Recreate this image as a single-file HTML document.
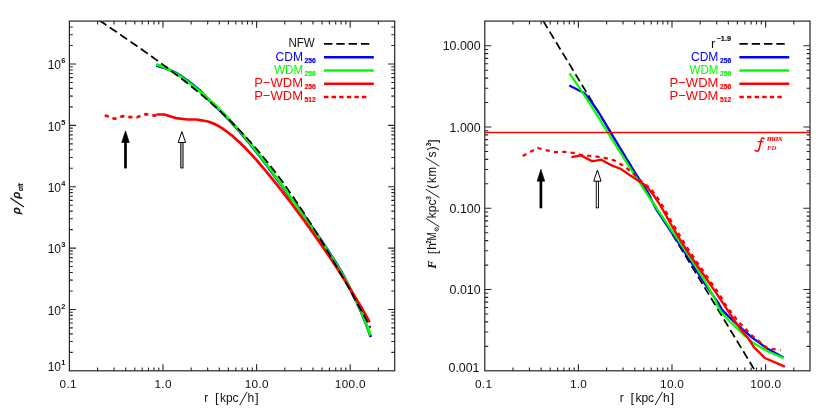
<!DOCTYPE html>
<html><head><meta charset="utf-8"><title>plot</title>
<style>html,body{margin:0;padding:0;background:#fff;}body{width:830px;height:415px;overflow:hidden;font-family:"Liberation Sans",sans-serif;}svg{display:block;will-change:transform;}</style>
</head><body>
<svg width="830" height="415" viewBox="0 0 830 415" font-family="Liberation Sans, sans-serif">
<rect width="830" height="415" fill="#fff"/>
<defs>
<clipPath id="cl"><rect x="69.4" y="21.1" width="325.29999999999995" height="349.7"/></clipPath>
<clipPath id="cr"><rect x="484.8" y="21.1" width="325.2" height="349.7"/></clipPath>
</defs>
<g clip-path="url(#cl)">
<polyline points="156.3,65.8 158.7,66.3 161.1,66.9 163.5,67.6 165.9,68.5 168.3,69.4 170.7,70.4 173.1,71.4 175.6,72.6 178.0,74.1 180.4,75.6 182.8,77.3 185.2,79.0 187.6,80.7 190.0,82.5 192.4,84.4 194.8,86.3 197.2,88.3 199.6,90.3 202.0,92.7 204.4,95.3 206.8,97.9 209.2,100.3 211.7,102.5 214.1,104.8 216.5,107.1 218.9,109.5 221.3,111.9 223.7,114.3 226.1,116.8 228.5,119.3 230.9,121.9 233.3,124.5 235.7,127.2 238.1,129.9 240.5,132.7 242.9,135.5 245.3,138.3 247.8,141.2 250.2,144.1 252.6,147.1 255.0,150.1 257.4,153.2 259.8,156.2 262.2,159.4 264.6,162.5 267.0,165.7 269.4,168.9 271.8,172.1 274.2,175.4 276.6,178.7 279.0,182.0 281.5,185.3 283.9,188.6 286.3,192.0 288.7,195.4 291.1,198.5 293.5,201.2 295.9,203.9 298.3,207.3 300.7,210.7 303.1,214.2 305.5,217.6 307.9,221.1 310.3,224.5 312.7,228.0 315.1,231.5 317.6,235.0 320.0,238.5 322.4,242.1 324.8,245.7 327.2,249.3 329.6,253.0 332.0,256.7 334.4,260.5 336.8,264.3 339.2,268.2 341.6,272.3 344.0,276.4 346.4,281.0 348.8,286.1 351.2,291.3 353.7,296.0 356.1,300.9 358.5,306.1 360.9,311.5 363.3,317.2 365.7,323.2 368.1,329.5 370.5,336.2 370.8,337.0" fill="none" stroke="#0000ff" stroke-width="2.7" stroke-linejoin="round" />
<polyline points="156.3,64.3 158.7,65.1 161.1,65.9 163.5,66.9 165.9,68.0 168.3,69.2 170.7,70.5 173.1,71.9 175.6,73.3 178.0,74.9 180.4,76.4 182.8,78.1 185.2,79.8 187.6,81.5 190.0,83.3 192.4,85.2 194.8,87.1 197.2,89.1 199.6,91.1 202.0,93.1 204.4,95.2 206.8,97.3 209.2,99.5 211.7,101.7 214.1,104.0 216.5,106.3 218.9,108.7 221.3,111.1 223.7,113.5 226.1,116.0 228.5,118.5 230.9,121.1 233.3,123.7 235.7,126.4 238.1,129.1 240.5,131.9 242.9,134.7 245.3,137.5 247.8,140.4 250.2,143.3 252.6,146.3 255.0,149.3 257.4,152.4 259.8,155.4 262.2,158.6 264.6,161.7 267.0,164.9 269.4,168.1 271.8,171.3 274.2,174.6 276.6,177.9 279.0,181.2 281.5,184.5 283.9,187.8 286.3,191.2 288.7,194.6 291.1,198.0 293.5,201.4 295.9,204.8 298.3,208.2 300.7,211.6 303.1,215.1 305.5,218.5 307.9,222.0 310.3,225.4 312.7,228.9 315.1,232.4 317.6,235.9 320.0,239.4 322.4,243.0 324.8,246.6 327.2,250.2 329.6,253.9 332.0,257.6 334.4,261.4 336.8,265.2 339.2,269.1 341.6,273.2 344.0,277.3 346.4,281.5 348.8,285.9 351.2,290.5 353.7,295.2 356.1,300.1 358.5,305.3 360.9,310.7 363.3,316.4 365.7,322.4 368.1,328.7 370.5,335.4" fill="none" stroke="#00ff00" stroke-width="2.7" stroke-linejoin="round" />
<polyline points="156.4,114.5 164.4,114.5 170.0,116.2 176.0,118.1 187.5,119.5 196.2,119.5 200.0,120.2 203.0,120.6 205.4,121.0 207.8,121.5 210.2,122.3 212.7,123.2 215.1,124.3 217.5,125.5 219.9,126.9 222.3,128.4 224.7,130.1 227.2,131.8 229.6,133.7 232.0,135.6 234.4,137.7 236.8,139.9 239.2,142.1 241.7,144.4 244.1,146.8 246.5,149.3 248.9,151.8 251.3,154.4 253.7,157.0 256.2,159.7 258.6,162.5 261.0,165.3 263.4,168.1 265.8,171.0 268.2,173.9 270.6,176.9 273.1,179.9 275.5,182.9 277.9,185.9 280.3,189.0 282.7,192.1 285.1,195.2 287.6,198.4 290.0,201.5 292.4,204.7 294.8,207.9 297.2,211.2 299.6,214.4 302.1,217.7 304.5,221.0 306.9,224.4 309.3,227.7 311.7,231.1 314.1,234.5 316.5,237.9 319.0,241.4 321.4,244.9 323.8,248.4 326.2,251.9 328.6,255.5 331.0,259.1 333.5,262.8 335.9,266.4 338.3,270.1 340.7,273.9 343.1,277.7 345.5,281.5 348.0,285.3 350.4,289.2 352.8,293.2 355.2,297.2 357.6,301.2 360.0,305.3 362.5,309.5 364.9,313.7 367.3,317.9 369.7,322.2" fill="none" stroke="#ff0000" stroke-width="2.7" stroke-linejoin="round" />
<polyline points="104.8,115.2 109.0,116.8 114.5,118.8 118.0,117.8 122.5,116.2 130.4,117.1 136.9,117.3 141.0,115.8 145.6,114.2 150.0,114.9 154.3,115.6 158.6,114.5" fill="none" stroke="#ff0000" stroke-width="2.7" stroke-linejoin="round" stroke-dasharray="4.2 4.0" />
<polyline points="97.0,18.8 99.0,20.1 100.9,21.5 102.9,22.8 104.9,24.1 106.8,25.5 108.8,26.8 110.8,28.1 112.7,29.5 114.7,30.8 116.7,32.1 118.6,33.5 120.6,34.8 122.6,36.2 124.5,37.5 126.5,38.9 128.5,40.2 130.4,41.6 132.4,43.0 134.4,44.3 136.4,45.7 138.3,47.1 140.3,48.4 142.3,49.8 144.2,51.2 146.2,52.6 148.2,54.0 150.1,55.4 152.1,56.8 154.1,58.2 156.0,59.6 158.0,61.1 160.0,62.5 161.9,63.9 163.9,65.4 165.9,66.8 167.8,68.3 169.8,69.8 171.8,71.2 173.7,72.7 175.7,74.2 177.7,75.7 179.6,77.2 181.6,78.7 183.6,80.3 185.5,81.8 187.5,83.4 189.5,84.9 191.4,86.5 193.4,88.1 195.4,89.7 197.3,91.3 199.3,92.9 201.3,94.6 203.3,96.2 205.2,97.9 207.2,99.6 209.2,101.3 211.1,103.0 213.1,104.8 215.1,106.5 217.0,108.3 219.0,110.1 221.0,111.9 222.9,113.8 224.9,115.7 226.9,117.5 228.8,119.4 230.8,121.4 232.8,123.3 234.7,125.3 236.7,127.3 238.7,129.3 240.6,131.4 242.6,133.5 244.6,135.6 246.5,137.7 248.5,139.9 250.5,142.0 252.4,144.3 254.4,146.5 256.4,148.8 258.3,151.1 260.3,153.4 262.3,155.8 264.2,158.2 266.2,160.6 268.2,163.1 270.2,165.6 272.1,168.1 274.1,170.6 276.1,173.2 278.0,175.8 280.0,178.5 282.0,181.1 283.9,183.8 285.9,186.6 287.9,189.4 289.8,192.2 291.8,195.0 293.8,197.8 295.7,200.7 297.7,203.6 299.7,206.6 301.6,209.6 303.6,212.6 305.6,215.6 307.5,218.7 309.5,221.7 311.5,224.8 313.4,228.0 315.4,231.1 317.4,234.3 319.3,237.5 321.3,240.8 323.3,244.0 325.2,247.3 327.2,250.6 329.2,253.9 331.1,257.3 333.1,260.6 335.1,264.0 337.1,267.4 339.0,270.8 341.0,274.3 343.0,277.7 344.9,281.2 346.9,284.7 348.9,288.2 350.8,291.7 352.8,295.2 354.8,298.8 356.7,302.3 358.7,305.9 360.7,309.5 362.6,313.1 364.6,316.7 366.6,320.3 368.5,323.9 370.5,327.6" fill="none" stroke="#000" stroke-width="1.75" stroke-linejoin="round" stroke-dasharray="8.5 4.05" stroke-dashoffset="9.66"/>
</g>
<g clip-path="url(#cr)">
<polyline points="543.3,21.1 755.1,370.8" fill="none" stroke="#000" stroke-width="1.75" stroke-linejoin="round" stroke-dasharray="8.4 4.06" stroke-dashoffset="0.2"/>
<polyline points="569.3,85.5 574.3,88.0 579.1,90.4 583.0,92.3 585.2,94.0 586.9,96.0 589.8,99.8 592.6,103.5 595.2,107.3 597.8,111.1 600.2,114.8 602.4,118.6 604.7,122.3 606.9,126.1 609.2,129.9 611.4,133.6 613.6,137.4 615.9,141.2 618.1,144.9 620.4,148.7 622.7,152.5 625.0,156.2 627.3,160.0 629.6,163.7 631.9,167.5 634.2,171.3 636.6,175.0 639.0,178.8 641.4,182.6 643.9,186.3 646.3,190.1 648.8,193.9 650.6,197.6 652.2,201.4 654.0,205.1 656.0,208.9 658.4,212.7 660.9,216.4 663.4,220.2 665.9,224.0 668.4,227.7 671.0,231.5 673.5,235.3 676.0,239.0 678.5,242.8 681.0,246.5 683.5,250.3 685.9,254.1 688.4,257.8 690.8,261.6 693.2,265.4 695.5,269.1 697.9,272.9 700.3,276.7 702.7,280.4 705.0,284.2 707.7,287.9 710.4,291.7 713.0,295.5 715.7,299.2 718.4,303.0 721.9,309.6 729.1,316.9 736.8,324.1 745.5,331.8 752.2,337.7 767.6,348.8 783.5,357.5" fill="none" stroke="#0000ff" stroke-width="2.25" stroke-linejoin="round" />
<polyline points="569.4,73.3 572.1,77.1 574.8,81.0 577.4,84.8 580.0,88.7 582.5,92.5 585.1,96.4 587.6,100.2 590.0,104.0 592.5,107.9 594.9,111.7 597.3,115.6 599.7,119.4 602.1,123.3 604.5,127.1 606.9,130.9 609.3,134.8 611.6,138.6 614.0,142.5 616.4,146.3 618.8,150.1 621.2,154.0 623.7,157.8 626.1,161.7 628.5,165.5 631.0,169.4 633.5,173.2 636.0,177.0 638.4,180.9 641.0,184.7 643.5,188.6 646.0,192.4 648.6,196.3 651.1,200.1 653.7,203.9 656.3,207.8 658.9,211.6 661.5,215.5 664.1,219.3 666.7,223.2 669.3,227.0 671.9,230.8 674.5,234.7 677.2,238.5 679.8,242.4 682.3,246.2 684.9,250.0 687.5,253.9 690.0,257.7 692.5,261.6 695.0,265.4 697.5,269.3 699.9,273.1 702.3,276.9 704.6,280.8 706.9,284.6 709.2,288.5 711.3,292.3 713.4,296.2 715.5,300.0 717.5,305.8 721.9,313.0 729.1,320.7 736.8,328.0 743.6,334.7 754.1,343.5 767.6,351.2 783.5,358.0" fill="none" stroke="#00ff00" stroke-width="2.25" stroke-linejoin="round" />
<line x1="484.8" x2="810.0" y1="132.4" y2="132.4" stroke="#ff0000" stroke-width="1.45"/>
<polyline points="571.4,157.2 581.0,155.4 591.6,161.0 595.0,160.8 601.3,159.7 612.3,165.7 621.0,169.0 630.4,175.6 638.1,180.4 643.9,184.3 647.8,188.0 650.6,191.4 653.2,194.8 655.6,198.2 657.9,201.6 660.0,205.0 662.0,208.5 664.0,211.9 665.9,215.3 667.8,218.7 669.8,222.1 671.7,225.5 673.7,228.9 675.7,232.3 677.7,235.7 679.8,239.1 681.9,242.5 684.1,246.0 686.3,249.4 688.5,252.8 690.8,256.2 693.1,259.6 695.5,263.0 697.8,266.4 700.2,269.8 702.6,273.2 704.9,276.6 707.3,280.0 709.7,283.5 712.0,286.9 714.3,290.3 716.6,293.7 718.9,297.1 721.2,300.5 723.4,303.9 725.7,307.3 727.9,310.7 730.2,314.1 732.5,317.5 734.8,321.0 737.2,324.4 739.7,327.8 742.3,331.2 745.0,334.6 748.0,338.0 754.1,347.3 764.7,358.0 784.9,366.6" fill="none" stroke="#ff0000" stroke-width="2.35" stroke-linejoin="round" />
<polyline points="522.7,156.0 537.7,148.0 546.8,150.4 555.5,152.1 564.2,151.9 572.8,152.8 580.5,154.8 588.3,155.7 595.0,156.2 606.6,158.4 614.3,160.4 620.0,163.7 627.0,168.4 633.3,173.7 639.6,179.5 645.8,184.8 651.5,189.5 652.8,191.4 655.6,195.1 658.1,198.8 660.5,202.6 662.8,206.3 665.0,210.0 667.1,213.7 669.2,217.5 671.3,221.2 673.4,224.9 675.6,228.6 677.8,232.4 680.0,236.1 682.3,239.8 684.6,243.5 687.0,247.3 689.4,251.0 691.9,254.7 694.5,258.4 697.0,262.2 699.6,265.9 702.2,269.6 704.8,273.3 707.3,277.1 709.9,280.8 712.5,284.5 715.0,288.2 717.6,292.0 720.1,295.7 722.5,299.4 722.8,301.4 728.6,308.7 733.9,315.9 739.2,322.7 745.0,328.4 750.3,334.2 757.0,339.6 767.6,348.3 780.6,350.2" fill="none" stroke="#ff0000" stroke-width="2.25" stroke-linejoin="round" stroke-dasharray="4.2 4.2" />
</g>
<rect x="69.4" y="21.1" width="325.29999999999995" height="349.7" fill="none" stroke="#262626" stroke-width="1.2"/>
<path d="M97.58 370.8v-3.4M97.58 21.1v3.4M114.06 370.8v-3.4M114.06 21.1v3.4M125.75 370.8v-3.4M125.75 21.1v3.4M134.82 370.8v-3.4M134.82 21.1v3.4M142.23 370.8v-3.4M142.23 21.1v3.4M148.50 370.8v-3.4M148.50 21.1v3.4M153.93 370.8v-3.4M153.93 21.1v3.4M158.72 370.8v-3.4M158.72 21.1v3.4M163.00 370.8v-6.6M163.00 21.1v6.6M191.18 370.8v-3.4M191.18 21.1v3.4M207.66 370.8v-3.4M207.66 21.1v3.4M219.35 370.8v-3.4M219.35 21.1v3.4M228.42 370.8v-3.4M228.42 21.1v3.4M235.83 370.8v-3.4M235.83 21.1v3.4M242.10 370.8v-3.4M242.10 21.1v3.4M247.53 370.8v-3.4M247.53 21.1v3.4M252.32 370.8v-3.4M252.32 21.1v3.4M256.60 370.8v-6.6M256.60 21.1v6.6M284.78 370.8v-3.4M284.78 21.1v3.4M301.26 370.8v-3.4M301.26 21.1v3.4M312.95 370.8v-3.4M312.95 21.1v3.4M322.02 370.8v-3.4M322.02 21.1v3.4M329.43 370.8v-3.4M329.43 21.1v3.4M335.70 370.8v-3.4M335.70 21.1v3.4M341.13 370.8v-3.4M341.13 21.1v3.4M345.92 370.8v-3.4M345.92 21.1v3.4M350.20 370.8v-6.6M350.20 21.1v6.6M378.38 370.8v-3.4M378.38 21.1v3.4M69.4 64.00h6.6M394.7 64.00h-6.6M69.4 45.53h3.4M394.7 45.53h-3.4M69.4 34.72h3.4M394.7 34.72h-3.4M69.4 27.06h3.4M394.7 27.06h-3.4M69.4 125.36h6.6M394.7 125.36h-6.6M69.4 106.89h3.4M394.7 106.89h-3.4M69.4 96.08h3.4M394.7 96.08h-3.4M69.4 88.42h3.4M394.7 88.42h-3.4M69.4 82.47h3.4M394.7 82.47h-3.4M69.4 77.61h3.4M394.7 77.61h-3.4M69.4 73.50h3.4M394.7 73.50h-3.4M69.4 69.95h3.4M394.7 69.95h-3.4M69.4 66.81h3.4M394.7 66.81h-3.4M69.4 186.72h6.6M394.7 186.72h-6.6M69.4 168.25h3.4M394.7 168.25h-3.4M69.4 157.44h3.4M394.7 157.44h-3.4M69.4 149.78h3.4M394.7 149.78h-3.4M69.4 143.83h3.4M394.7 143.83h-3.4M69.4 138.97h3.4M394.7 138.97h-3.4M69.4 134.86h3.4M394.7 134.86h-3.4M69.4 131.31h3.4M394.7 131.31h-3.4M69.4 128.17h3.4M394.7 128.17h-3.4M69.4 248.08h6.6M394.7 248.08h-6.6M69.4 229.61h3.4M394.7 229.61h-3.4M69.4 218.80h3.4M394.7 218.80h-3.4M69.4 211.14h3.4M394.7 211.14h-3.4M69.4 205.19h3.4M394.7 205.19h-3.4M69.4 200.33h3.4M394.7 200.33h-3.4M69.4 196.22h3.4M394.7 196.22h-3.4M69.4 192.67h3.4M394.7 192.67h-3.4M69.4 189.53h3.4M394.7 189.53h-3.4M69.4 309.44h6.6M394.7 309.44h-6.6M69.4 290.97h3.4M394.7 290.97h-3.4M69.4 280.16h3.4M394.7 280.16h-3.4M69.4 272.50h3.4M394.7 272.50h-3.4M69.4 266.55h3.4M394.7 266.55h-3.4M69.4 261.69h3.4M394.7 261.69h-3.4M69.4 257.58h3.4M394.7 257.58h-3.4M69.4 254.03h3.4M394.7 254.03h-3.4M69.4 250.89h3.4M394.7 250.89h-3.4M69.4 352.33h3.4M394.7 352.33h-3.4M69.4 341.52h3.4M394.7 341.52h-3.4M69.4 333.86h3.4M394.7 333.86h-3.4M69.4 327.91h3.4M394.7 327.91h-3.4M69.4 323.05h3.4M394.7 323.05h-3.4M69.4 318.94h3.4M394.7 318.94h-3.4M69.4 315.39h3.4M394.7 315.39h-3.4M69.4 312.25h3.4M394.7 312.25h-3.4" stroke="#262626" stroke-width="1.1" fill="none"/>
<rect x="484.8" y="21.1" width="325.2" height="349.7" fill="none" stroke="#262626" stroke-width="1.2"/>
<path d="M512.98 370.8v-3.4M512.98 21.1v3.4M529.46 370.8v-3.4M529.46 21.1v3.4M541.15 370.8v-3.4M541.15 21.1v3.4M550.22 370.8v-3.4M550.22 21.1v3.4M557.63 370.8v-3.4M557.63 21.1v3.4M563.90 370.8v-3.4M563.90 21.1v3.4M569.33 370.8v-3.4M569.33 21.1v3.4M574.12 370.8v-3.4M574.12 21.1v3.4M578.40 370.8v-6.6M578.40 21.1v6.6M606.58 370.8v-3.4M606.58 21.1v3.4M623.06 370.8v-3.4M623.06 21.1v3.4M634.75 370.8v-3.4M634.75 21.1v3.4M643.82 370.8v-3.4M643.82 21.1v3.4M651.23 370.8v-3.4M651.23 21.1v3.4M657.50 370.8v-3.4M657.50 21.1v3.4M662.93 370.8v-3.4M662.93 21.1v3.4M667.72 370.8v-3.4M667.72 21.1v3.4M672.00 370.8v-6.6M672.00 21.1v6.6M700.18 370.8v-3.4M700.18 21.1v3.4M716.66 370.8v-3.4M716.66 21.1v3.4M728.35 370.8v-3.4M728.35 21.1v3.4M737.42 370.8v-3.4M737.42 21.1v3.4M744.83 370.8v-3.4M744.83 21.1v3.4M751.10 370.8v-3.4M751.10 21.1v3.4M756.53 370.8v-3.4M756.53 21.1v3.4M761.32 370.8v-3.4M761.32 21.1v3.4M765.60 370.8v-6.6M765.60 21.1v6.6M793.78 370.8v-3.4M793.78 21.1v3.4M484.8 45.76h6.6M810.0 45.76h-6.6M484.8 127.02h6.6M810.0 127.02h-6.6M484.8 102.56h3.4M810.0 102.56h-3.4M484.8 88.25h3.4M810.0 88.25h-3.4M484.8 78.10h3.4M810.0 78.10h-3.4M484.8 70.22h3.4M810.0 70.22h-3.4M484.8 63.79h3.4M810.0 63.79h-3.4M484.8 58.35h3.4M810.0 58.35h-3.4M484.8 53.63h3.4M810.0 53.63h-3.4M484.8 49.48h3.4M810.0 49.48h-3.4M484.8 208.28h6.6M810.0 208.28h-6.6M484.8 183.82h3.4M810.0 183.82h-3.4M484.8 169.51h3.4M810.0 169.51h-3.4M484.8 159.36h3.4M810.0 159.36h-3.4M484.8 151.48h3.4M810.0 151.48h-3.4M484.8 145.05h3.4M810.0 145.05h-3.4M484.8 139.61h3.4M810.0 139.61h-3.4M484.8 134.89h3.4M810.0 134.89h-3.4M484.8 130.74h3.4M810.0 130.74h-3.4M484.8 289.54h6.6M810.0 289.54h-6.6M484.8 265.08h3.4M810.0 265.08h-3.4M484.8 250.77h3.4M810.0 250.77h-3.4M484.8 240.62h3.4M810.0 240.62h-3.4M484.8 232.74h3.4M810.0 232.74h-3.4M484.8 226.31h3.4M810.0 226.31h-3.4M484.8 220.87h3.4M810.0 220.87h-3.4M484.8 216.15h3.4M810.0 216.15h-3.4M484.8 212.00h3.4M810.0 212.00h-3.4M484.8 346.34h3.4M810.0 346.34h-3.4M484.8 332.03h3.4M810.0 332.03h-3.4M484.8 321.88h3.4M810.0 321.88h-3.4M484.8 314.00h3.4M810.0 314.00h-3.4M484.8 307.57h3.4M810.0 307.57h-3.4M484.8 302.13h3.4M810.0 302.13h-3.4M484.8 297.41h3.4M810.0 297.41h-3.4M484.8 293.26h3.4M810.0 293.26h-3.4" stroke="#262626" stroke-width="1.1" fill="none"/>
<path d="M125.5 130.8L129.3 142.5L121.7 142.5Z" fill="#000" stroke="#000" stroke-width="0.6" stroke-linejoin="miter"/>
<rect x="124.15" y="142.0" width="2.7" height="26.400000000000006" fill="#000"/>
<rect x="180.75" y="142.5" width="2.3000000000000003" height="25.450000000000006" fill="#bbb" stroke="#000" stroke-width="0.9"/>
<path d="M181.9 131.60000000000002L185.6 142.5L178.20000000000002 142.5Z" fill="#fff" stroke="#000" stroke-width="1.0" stroke-linejoin="miter"/>
<path d="M540.9 169.3L544.6999999999999 181.2L537.1 181.2Z" fill="#000" stroke="#000" stroke-width="0.6" stroke-linejoin="miter"/>
<rect x="539.55" y="180.7" width="2.7" height="27.600000000000023" fill="#000"/>
<rect x="596.25" y="181.2" width="2.3000000000000003" height="26.650000000000023" fill="#f4f4f4" stroke="#000" stroke-width="0.9"/>
<path d="M597.4 170.10000000000002L601.1 181.2L593.6999999999999 181.2Z" fill="#fff" stroke="#000" stroke-width="1.0" stroke-linejoin="miter"/>
<text x="68.25000000000001" y="387.6" font-size="11.8" text-anchor="middle" fill="#111" letter-spacing="0.3">0.1</text>
<text x="163.15" y="387.6" font-size="11.8" text-anchor="middle" fill="#111" letter-spacing="0.3">1.0</text>
<text x="256.75" y="387.6" font-size="11.8" text-anchor="middle" fill="#111" letter-spacing="0.3">10.0</text>
<text x="350.3499999999999" y="387.6" font-size="11.8" text-anchor="middle" fill="#111" letter-spacing="0.3">100.0</text>
<text x="483.65" y="387.6" font-size="11.8" text-anchor="middle" fill="#111" letter-spacing="0.3">0.1</text>
<text x="578.55" y="387.6" font-size="11.8" text-anchor="middle" fill="#111" letter-spacing="0.3">1.0</text>
<text x="672.15" y="387.6" font-size="11.8" text-anchor="middle" fill="#111" letter-spacing="0.3">10.0</text>
<text x="765.7499999999999" y="387.6" font-size="11.8" text-anchor="middle" fill="#111" letter-spacing="0.3">100.0</text>
<text x="61.0" y="370.6" font-size="12" text-anchor="end" fill="#111">10</text>
<text x="61.3" y="364.7" font-size="7.4" text-anchor="start" fill="#111" font-weight="bold">1</text>
<text x="61.0" y="314.5" font-size="12" text-anchor="end" fill="#111">10</text>
<text x="61.3" y="308.6" font-size="7.4" text-anchor="start" fill="#111" font-weight="bold">2</text>
<text x="61.0" y="253.2" font-size="12" text-anchor="end" fill="#111">10</text>
<text x="61.3" y="247.3" font-size="7.4" text-anchor="start" fill="#111" font-weight="bold">3</text>
<text x="61.0" y="191.8" font-size="12" text-anchor="end" fill="#111">10</text>
<text x="61.3" y="185.9" font-size="7.4" text-anchor="start" fill="#111" font-weight="bold">4</text>
<text x="61.0" y="130.5" font-size="12" text-anchor="end" fill="#111">10</text>
<text x="61.3" y="124.6" font-size="7.4" text-anchor="start" fill="#111" font-weight="bold">5</text>
<text x="61.0" y="69.1" font-size="12" text-anchor="end" fill="#111">10</text>
<text x="61.3" y="63.2" font-size="7.4" text-anchor="start" fill="#111" font-weight="bold">6</text>
<text x="479.5" y="371.6" font-size="12.4" text-anchor="end" fill="#111" >0.001</text>
<text x="480.6" y="294.0" font-size="12.4" text-anchor="end" fill="#111" >0.010</text>
<text x="480.6" y="212.8" font-size="12.4" text-anchor="end" fill="#111" >0.100</text>
<text x="480.6" y="131.5" font-size="12.4" text-anchor="end" fill="#111" >1.000</text>
<text x="480.6" y="50.3" font-size="12.4" text-anchor="end" fill="#111" >10.000</text>
<g transform="translate(0,401.8)"><text x="206.30" y="0.00" font-size="12" text-anchor="middle" fill="#111" >r</text><text x="216.90" y="0.60" font-size="13.2" text-anchor="middle" fill="#111" >[</text><text x="223.00" y="0.00" font-size="12" text-anchor="middle" fill="#111" >k</text><text x="229.35" y="0.00" font-size="12" text-anchor="middle" fill="#111" >p</text><text x="235.50" y="0.00" font-size="12" text-anchor="middle" fill="#111" >c</text><line x1="239.90" y1="3.00" x2="246.90" y2="-9.60" stroke="#111" stroke-width="0.95" stroke-linecap="round"/><text x="250.90" y="0.00" font-size="12" text-anchor="middle" fill="#111" >h</text><text x="256.90" y="0.60" font-size="13.2" text-anchor="middle" fill="#111" >]</text></g>
<g transform="translate(415.4,401.8)"><text x="206.30" y="0.00" font-size="12" text-anchor="middle" fill="#111" >r</text><text x="216.90" y="0.60" font-size="13.2" text-anchor="middle" fill="#111" >[</text><text x="223.00" y="0.00" font-size="12" text-anchor="middle" fill="#111" >k</text><text x="229.35" y="0.00" font-size="12" text-anchor="middle" fill="#111" >p</text><text x="235.50" y="0.00" font-size="12" text-anchor="middle" fill="#111" >c</text><line x1="239.90" y1="3.00" x2="246.90" y2="-9.60" stroke="#111" stroke-width="0.95" stroke-linecap="round"/><text x="250.90" y="0.00" font-size="12" text-anchor="middle" fill="#111" >h</text><text x="256.90" y="0.60" font-size="13.2" text-anchor="middle" fill="#111" >]</text></g>
<g transform="translate(20.4,214.0) rotate(-90)"><text x="3.30" y="0.00" font-size="11.4" text-anchor="middle" fill="#111" font-style="italic" stroke="#111" stroke-width="0.5">ρ</text><line x1="7.30" y1="3.20" x2="15.80" y2="-9.60" stroke="#111" stroke-width="1.2" stroke-linecap="round"/><text x="18.80" y="0.00" font-size="11.4" text-anchor="middle" fill="#111" font-style="italic" stroke="#111" stroke-width="0.5">ρ</text><text x="26.70" y="2.50" font-size="6.9" text-anchor="middle" fill="#111" font-weight="bold" font-style="italic" stroke="#111" stroke-width="0.25" textLength="7.6" lengthAdjust="spacingAndGlyphs">crit</text></g>
<g transform="translate(436.1,268.6) rotate(-90)"><text x="3.90" y="0.00" font-size="12.5" text-anchor="middle" fill="#111" font-family="Liberation Serif, serif" font-style="italic" font-weight="bold">F</text><text x="16.25" y="0.60" font-size="13.2" text-anchor="middle" fill="#111" >[</text><text x="22.30" y="0.00" font-size="12" text-anchor="middle" fill="#111" >h</text><text x="26.70" y="-5.20" font-size="6.3" text-anchor="middle" fill="#111" font-weight="bold">2</text><text x="32.25" y="0.00" font-size="12" text-anchor="middle" fill="#111" textLength="8.3" lengthAdjust="spacingAndGlyphs">M</text><circle cx="39.30" cy="0.60" r="1.75" fill="none" stroke="#111" stroke-width="0.8"/><circle cx="39.30" cy="0.60" r="0.55" fill="#111"/><line x1="42.00" y1="3.00" x2="50.10" y2="-9.90" stroke="#111" stroke-width="0.95" stroke-linecap="round"/><text x="53.25" y="0.00" font-size="12" text-anchor="middle" fill="#111" >k</text><text x="59.80" y="0.00" font-size="12" text-anchor="middle" fill="#111" >p</text><text x="66.10" y="0.00" font-size="12" text-anchor="middle" fill="#111" >c</text><text x="70.60" y="-5.20" font-size="6.3" text-anchor="middle" fill="#111" font-weight="bold">3</text><line x1="71.20" y1="3.00" x2="79.10" y2="-9.90" stroke="#111" stroke-width="0.95" stroke-linecap="round"/><text x="82.00" y="0.00" font-size="12.5" text-anchor="middle" fill="#111" >(</text><text x="88.60" y="0.00" font-size="12" text-anchor="middle" fill="#111" >k</text><text x="97.00" y="0.00" font-size="12" text-anchor="middle" fill="#111" textLength="9.6" lengthAdjust="spacingAndGlyphs">m</text><line x1="102.50" y1="3.00" x2="110.60" y2="-9.90" stroke="#111" stroke-width="0.95" stroke-linecap="round"/><text x="114.10" y="0.00" font-size="12" text-anchor="middle" fill="#111" >s</text><text x="120.10" y="0.00" font-size="12.5" text-anchor="middle" fill="#111" >)</text><text x="124.10" y="-5.20" font-size="6.3" text-anchor="middle" fill="#111" font-weight="bold">3</text><text x="127.50" y="0.60" font-size="13.2" text-anchor="middle" fill="#111" >]</text></g>
<line x1="324.0" x2="370.0" y1="43.9" y2="43.9" stroke="#000" stroke-width="1.9" stroke-dasharray="8.4 3.9"/>
<line x1="324.0" x2="373.8" y1="57.3" y2="57.3" stroke="#0000ff" stroke-width="2.5"/>
<line x1="324.0" x2="373.8" y1="70.5" y2="70.5" stroke="#00ff00" stroke-width="2.5"/>
<line x1="324.0" x2="373.8" y1="83.8" y2="83.8" stroke="#ff0000" stroke-width="2.5"/>
<line x1="324.0" x2="369.2" y1="96.9" y2="96.9" stroke="#ff0000" stroke-width="2.5" stroke-dasharray="4.4 3.2"/>
<text x="288.4" y="47.3" font-size="13.3" fill="#111" textLength="26.3" lengthAdjust="spacingAndGlyphs">NFW</text>
<text x="275.6" y="60.8" font-size="13.3" fill="#0000ff" textLength="27.4" lengthAdjust="spacingAndGlyphs">CDM</text>
<text x="304.6" y="63.0" font-size="7.0" font-weight="bold" fill="#0000ff" stroke="#0000ff" stroke-width="0.2" textLength="11.3" lengthAdjust="spacingAndGlyphs">256</text>
<text x="274.2" y="74.0" font-size="13.3" fill="#00ff00" textLength="28.8" lengthAdjust="spacingAndGlyphs">WDM</text>
<text x="304.6" y="76.2" font-size="7.0" font-weight="bold" fill="#00ff00" stroke="#00ff00" stroke-width="0.2" textLength="11.3" lengthAdjust="spacingAndGlyphs">256</text>
<text x="254.2" y="87.2" font-size="13.3" fill="#ff0000" textLength="48.8" lengthAdjust="spacingAndGlyphs">P−WDM</text>
<text x="304.6" y="89.4" font-size="7.0" font-weight="bold" fill="#ff0000" stroke="#ff0000" stroke-width="0.2" textLength="11.3" lengthAdjust="spacingAndGlyphs">256</text>
<text x="254.2" y="100.2" font-size="13.3" fill="#ff0000" textLength="48.8" lengthAdjust="spacingAndGlyphs">P−WDM</text>
<text x="304.6" y="102.4" font-size="7.0" font-weight="bold" fill="#ff0000" stroke="#ff0000" stroke-width="0.2" textLength="11.3" lengthAdjust="spacingAndGlyphs">512</text>
<line x1="739.4" x2="785.4000000000001" y1="43.9" y2="43.9" stroke="#000" stroke-width="1.9" stroke-dasharray="8.4 3.9"/>
<line x1="739.4" x2="789.2" y1="57.3" y2="57.3" stroke="#0000ff" stroke-width="2.5"/>
<line x1="739.4" x2="789.2" y1="70.5" y2="70.5" stroke="#00ff00" stroke-width="2.5"/>
<line x1="739.4" x2="789.2" y1="83.8" y2="83.8" stroke="#ff0000" stroke-width="2.5"/>
<line x1="739.4" x2="784.6" y1="96.9" y2="96.9" stroke="#ff0000" stroke-width="2.5" stroke-dasharray="4.4 3.2"/>
<text x="711.0" y="47.5" font-size="13.3" fill="#111">r</text><text x="716.6" y="41.3" font-size="7.0" font-weight="bold" fill="#111" stroke="#111" stroke-width="0.2" textLength="14.4" lengthAdjust="spacingAndGlyphs">−1.9</text>
<text x="691.0" y="60.8" font-size="13.3" fill="#0000ff" textLength="27.4" lengthAdjust="spacingAndGlyphs">CDM</text>
<text x="720.0" y="63.0" font-size="7.0" font-weight="bold" fill="#0000ff" stroke="#0000ff" stroke-width="0.2" textLength="11.3" lengthAdjust="spacingAndGlyphs">256</text>
<text x="689.6" y="74.0" font-size="13.3" fill="#00ff00" textLength="28.8" lengthAdjust="spacingAndGlyphs">WDM</text>
<text x="720.0" y="76.2" font-size="7.0" font-weight="bold" fill="#00ff00" stroke="#00ff00" stroke-width="0.2" textLength="11.3" lengthAdjust="spacingAndGlyphs">256</text>
<text x="669.6" y="87.2" font-size="13.3" fill="#ff0000" textLength="48.8" lengthAdjust="spacingAndGlyphs">P−WDM</text>
<text x="720.0" y="89.4" font-size="7.0" font-weight="bold" fill="#ff0000" stroke="#ff0000" stroke-width="0.2" textLength="11.3" lengthAdjust="spacingAndGlyphs">256</text>
<text x="669.6" y="100.2" font-size="13.3" fill="#ff0000" textLength="48.8" lengthAdjust="spacingAndGlyphs">P−WDM</text>
<text x="720.0" y="102.4" font-size="7.0" font-weight="bold" fill="#ff0000" stroke="#ff0000" stroke-width="0.2" textLength="11.3" lengthAdjust="spacingAndGlyphs">512</text>
<path d="M764.0 139.0C763.9 137.9 762.6 137.5 761.9 138.3C761.2 139.1 761.0 140.5 760.6 142.5L759.3 148.5C758.9 150.3 758.2 151.2 757.0 151.2C756.0 151.2 755.2 150.9 754.9 150.4M758.3 141.6H763.0" fill="none" stroke="#ff0000" stroke-width="1.45" stroke-linecap="round" stroke-linejoin="round"/>
<text x="766.9" y="141.4" font-size="8.4" font-style="italic" font-weight="bold" fill="#ff0000" font-family="Liberation Serif, serif" textLength="15.9" lengthAdjust="spacingAndGlyphs">max</text>
<text x="766.9" y="150.0" font-size="6.8" font-style="italic" font-weight="bold" fill="#ff0000" font-family="Liberation Serif, serif" textLength="9.4" lengthAdjust="spacingAndGlyphs">FD</text>
</svg>
</body></html>
